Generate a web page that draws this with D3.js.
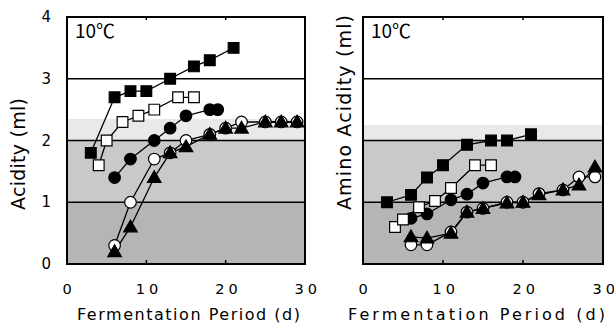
<!DOCTYPE html>
<html><head><meta charset="utf-8">
<script src="https://cdn.jsdelivr.net/npm/d3@7"></script>
<style>
html,body{margin:0;padding:0;background:#fff;}
svg{display:block;}
text{font-family:"DejaVu Sans","Noto Sans",sans-serif;fill:#000;}
.cjk{font-family:"Noto Sans CJK JP","DejaVu Sans",sans-serif;}
</style></head>
<body>
<svg id="chart" width="614" height="324"></svg>
<script>
// ---- data ----
const xTicks = [0, 10, 20, 30];
const yTicks = [0, 1, 2, 3, 4];
const panelTitles = ["Acidity (ml)", "Amino Acidity (ml)"];
const tempLabel = "10\u2103";
const xTitle = "Fermentation Period (d)";

const sqX = [3, 6, 8, 10, 13, 16, 18, 21];
const osqX = [4, 5, 7, 9, 11, 14, 16];
const fcX = [6, 8, 11, 13, 15, 18, 19];
const ocX = [6, 8, 11, 13, 15, 18, 20, 22, 25, 27, 29];
const trX = [6, 8, 11, 13, 15, 18, 20, 22, 25, 27, 29];

// Acidity (left)
const acidFilledSquare = [1.8, 2.7, 2.8, 2.8, 3.0, 3.2, 3.3, 3.5];
const acidOpenSquare = [1.6, 2.0, 2.3, 2.4, 2.5, 2.7, 2.7];
const acidFilledCircle = [1.4, 1.7, 2.0, 2.2, 2.4, 2.5, 2.5];
const acidOpenCircle = [0.3, 1.0, 1.7, 1.8, 2.0, 2.1, 2.2, 2.3, 2.3, 2.3, 2.3];
const acidTriangle = [0.2, 0.6, 1.4, 1.8, 1.9, 2.1, 2.2, 2.2, 2.3, 2.3, 2.3];

// Amino acidity (right)
const aminoFilledSquare = [1.0, 1.12, 1.4, 1.6, 1.93, 2.0, 2.0, 2.1];
const aminoOpenSquare = [0.6, 0.72, 0.92, 1.02, 1.23, 1.6, 1.6];
const aminoFilledCircle = [0.74, 0.81, 1.04, 1.13, 1.31, 1.41, 1.41];
const aminoOpenCircle = [0.31, 0.31, 0.52, 0.84, 0.9, 1.0, 1.0, 1.14, 1.2, 1.41, 1.41];
const aminoTriangle = [0.44, 0.42, 0.5, 0.84, 0.9, 0.99, 1.0, 1.12, 1.2, 1.28, 1.57];

// shaded bands [from, to]
const bands = [[0, 1], [1, 2], [2, 2.35]];
const aminoBands = [[0, 1], [1, 2], [2, 2.25]];
const bandColors = ["#b5b5b5", "#c9c9c9", "#e9e9e9"];

const svg = d3.select("#chart");

function panel(cfg) {
  const x = d3.scaleLinear().domain([0, 30]).range(cfg.xr);
  const y = d3.scaleLinear().domain([0, 4]).range([264, 17]);
  const g = svg.append("g");

  cfg.bands.forEach((b, i) => {
    g.append("rect")
      .attr("x", x(0)).attr("width", x(30) - x(0))
      .attr("y", y(b[1])).attr("height", y(b[0]) - y(b[1]))
      .attr("fill", bandColors[i]);
  });
  [1, 2, 3].forEach(v => {
    g.append("line").attr("x1", x(0)).attr("x2", x(30))
      .attr("y1", y(v)).attr("y2", y(v))
      .attr("stroke", "#000").attr("stroke-width", 1.3);
  });
  [10, 20].forEach(v => {
    g.append("line").attr("x1", x(v)).attr("x2", x(v))
      .attr("y1", y(0)).attr("y2", y(0) - 4).attr("stroke", "#000").attr("stroke-width", 1.5);
    g.append("line").attr("x1", x(v)).attr("x2", x(v))
      .attr("y1", y(4)).attr("y2", y(4) + 3).attr("stroke", "#000").attr("stroke-width", 1.5);
  });

  const series = [
    {xs: fcX, ys: cfg.fc, shape: "circle", fill: "#000"},
    {xs: ocX, ys: cfg.oc, shape: "circle", fill: "#fff"},
    {xs: trX, ys: cfg.tr, shape: "triangle", fill: "#000"},
    {xs: sqX, ys: cfg.sq, shape: "square", fill: "#000"},
    {xs: osqX, ys: cfg.osq, shape: "square", fill: "#fff"}
  ];
  const line = d3.line().x(d => x(d[0])).y(d => y(d[1]));
  series.forEach(s => {
    const pts = s.xs.map((v, i) => [v, s.ys[i]]);
    g.append("path").attr("d", line(pts)).attr("fill", "none")
      .attr("stroke", "#000").attr("stroke-width", 1.3);
  });
  series.forEach(s => {
    const pts = s.xs.map((v, i) => [v, s.ys[i]]);
    const sym = s.shape === "circle" ? d3.symbolCircle : s.shape === "square" ? d3.symbolSquare : d3.symbolTriangle;
    const size = s.shape === "circle" ? 105 : s.shape === "square" ? 115 : 80;
    g.selectAll(null).data(pts).enter().append("path")
      .attr("d", d3.symbol().type(sym).size(size))
      .attr("transform", d => `translate(${x(d[0])},${y(d[1]) + (s.shape === "triangle" ? 1 : 0)})`)
      .attr("fill", s.fill).attr("stroke", "#000").attr("stroke-width", 1.2);
  });

  g.append("rect").attr("x", x(0)).attr("y", y(4))
    .attr("width", x(30) - x(0)).attr("height", y(0) - y(4))
    .attr("fill", "none").attr("stroke", "#000").attr("stroke-width", 2);

  g.append("text").attr("class", "cjk").attr("x", x(0) + 8).attr("y", y(4) + 21)
    .attr("font-size", 19).text(tempLabel);

  // x tick labels (digits spaced apart as in the original)
  g.selectAll(null).data(xTicks).enter().append("text")
    .attr("x", d => d === 0 ? x(d) - 4.5 : x(d) - 10.5).attr("y", 294)
    .attr("font-size", 14.5)
    .each(function(d) {
      const chars = String(d).split("");
      const t = d3.select(this);
      chars.forEach((c, i) => t.append("tspan").attr("dx", i === 0 ? 0 : 4).text(c));
    });

  g.append("text").attr("x", cfg.xtX).attr("y", 320)
    .attr("font-size", 16).attr("textLength", cfg.xtLen).attr("lengthAdjust", "spacing").text(xTitle);

  if (cfg.yLabels) {
    g.selectAll(null).data(yTicks).enter().append("text")
      .attr("x", x(0) - 16).attr("y", d => y(d) + 5).attr("text-anchor", "end")
      .attr("font-size", 15).text(d => d);
  }
  g.append("text").attr("transform", `translate(${cfg.yTitleX},210) rotate(-90)`)
    .attr("font-size", 19).attr("textLength", cfg.ytLen).attr("lengthAdjust", "spacing").text(cfg.title);
}

panel({xr: [67, 305], title: panelTitles[0], yLabels: true, yTitleX: 25, ytLen: 112, xtX: 77, xtLen: 223, bands: bands,
  sq: acidFilledSquare, osq: acidOpenSquare, fc: acidFilledCircle, oc: acidOpenCircle, tr: acidTriangle});
panel({xr: [363, 603], title: panelTitles[1], yLabels: false, yTitleX: 351, ytLen: 195, xtX: 348, xtLen: 257, bands: aminoBands,
  sq: aminoFilledSquare, osq: aminoOpenSquare, fc: aminoFilledCircle, oc: aminoOpenCircle, tr: aminoTriangle});
</script>
</body></html>
